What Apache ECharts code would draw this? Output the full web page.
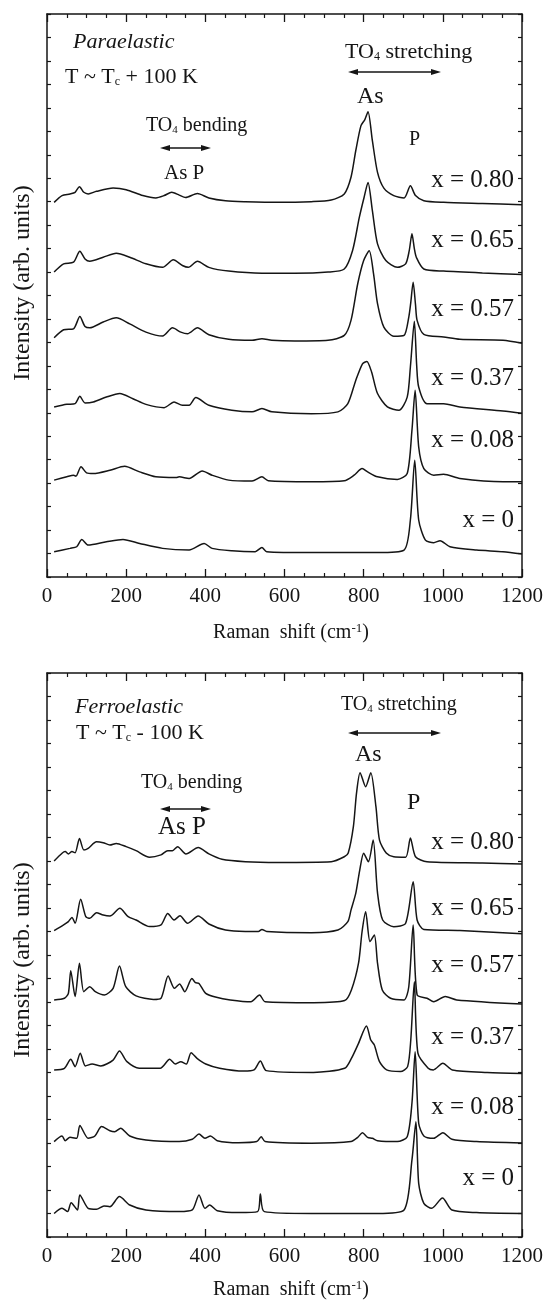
<!DOCTYPE html>
<html>
<head>
<meta charset="utf-8">
<script src="https://cdn.jsdelivr.net/npm/echarts@6/dist/echarts.min.js"></script>
<style>
html,body{margin:0;padding:0;background:#fff;}
#chart{width:548px;height:1301px;}
</style>
</head>
<body>
<div id="chart"></div>
<script>
// ---------- DATA (Raman shift in cm-1, intensity in arb. units above each trace's baseline) ----------
const compositions = ['x = 0.80', 'x = 0.65', 'x = 0.57', 'x = 0.37', 'x = 0.08', 'x = 0'];
const offsets = [16, 13, 10, 7, 4, 1];
const xTicks = [0, 200, 400, 600, 800, 1000, 1200];

// Paraelastic, T ~ Tc + 100 K
const para080 = [[18,-0.03],[38,0.26],[58,0.33],[71,0.4],[82,0.64],[93,0.4],[104,0.33],[125,0.44],[167,0.58],[200,0.51],[242,0.26],[275,0.16],[296,0.26],[315,0.4],[334,0.28],[350,0.18],[380,0.35],[409,0.16],[451,0.04],[501,0],[584,-0.03],[668,0],[718,0.07],[751,0.33],[768,1.04],[780,2.17],[793,3.23],[803,3.5],[811,3.83],[822,2.6],[835,1.25],[851,0.58],[876,0.26],[902,0.16],[918,0.68],[931,0.26],[952,0.04],[1002,-0.03],[1100,-0.08],[1200,-0.13]];
const para065 = [[18,0],[42,0.35],[67,0.42],[83,0.89],[96,0.56],[108,0.46],[142,0.63],[175,0.8],[209,0.63],[250,0.35],[292,0.2],[319,0.52],[342,0.28],[357,0.2],[380,0.46],[409,0.2],[459,0.04],[543,-0.05],[626,-0.05],[710,0],[751,0.13],[772,0.92],[789,2.33],[801,3.18],[811,3.82],[822,2.62],[835,1.2],[856,0.49],[885,0.2],[906,0.35],[915,0.9],[922,1.63],[928,1.0],[933,0.63],[952,0.13],[1002,0.04],[1100,-0.04],[1200,-0.1]];
const para057 = [[18,0.2],[42,0.54],[67,0.58],[83,1.1],[96,0.68],[108,0.62],[142,0.87],[175,1.05],[209,0.79],[250,0.44],[292,0.27],[317,0.62],[338,0.44],[355,0.37],[380,0.62],[409,0.33],[459,0.13],[518,0.09],[543,0.16],[568,0.09],[626,0.06],[710,0.09],[751,0.3],[768,0.94],[785,2.5],[800,3.49],[814,3.91],[825,2.92],[835,1.65],[851,0.65],[876,0.26],[902,0.3],[914,1.08],[919,1.7],[925,2.57],[931,1.6],[935,0.94],[952,0.34],[1002,0.23],[1043,0.13],[1152,0.09],[1200,-0.04]];
const para037 = [[18,0.25],[50,0.36],[71,0.39],[83,0.7],[96,0.42],[117,0.46],[150,0.67],[184,0.82],[217,0.6],[250,0.36],[296,0.22],[321,0.46],[342,0.32],[359,0.32],[376,0.65],[409,0.32],[467,0.11],[518,0.04],[543,0.18],[568,0.04],[668,-0.04],[735,0.04],[760,0.39],[780,1.38],[797,2.09],[808,2.19],[820,1.74],[835,0.82],[860,0.25],[889,0.11],[910,0.67],[918,1.95],[928,3.9],[934,2.0],[939,1.1],[960,0.39],[1002,0.39],[1043,0.25],[1152,0.08],[1200,-0.02]];
const para008 = [[18,0.13],[50,0.27],[67,0.34],[73,0.3],[86,0.7],[100,0.44],[117,0.41],[159,0.55],[196,0.72],[234,0.48],[275,0.27],[326,0.24],[334,0.27],[359,0.2],[392,0.52],[417,0.34],[459,0.13],[518,0.09],[543,0.27],[559,0.1],[668,0.06],[751,0.1],[776,0.34],[796,0.62],[810,0.48],[835,0.27],[885,0.16],[910,0.41],[922,2.26],[930,3.96],[939,1.55],[952,0.62],[977,0.34],[1002,0.38],[1043,0.2],[1152,0.06],[1200,0.06]];
const para000 = [[18,0.08],[58,0.22],[75,0.29],[88,0.6],[104,0.36],[150,0.5],[192,0.6],[234,0.43],[292,0.22],[359,0.15],[397,0.43],[417,0.22],[467,0.12],[526,0.08],[543,0.26],[555,0.08],[668,0.04],[835,0.04],[902,0.15],[918,1.43],[929,3.98],[939,1.43],[956,0.57],[977,0.46],[993,0.55],[1018,0.29],[1085,0.15],[1152,0.08],[1200,-0.02]];

// Ferroelastic, T ~ Tc - 100 K
const ferro080 = [[18,0],[38,0.33],[46,0.4],[54,0.3],[63,0.4],[71,0.35],[82,0.96],[93,0.47],[104,0.54],[125,0.82],[142,0.78],[159,0.68],[175,0.75],[200,0.61],[225,0.44],[259,0.16],[288,0.26],[305,0.44],[317,0.44],[330,0.61],[351,0.3],[382,0.57],[409,0.3],[442,0.07],[501,-0.03],[584,-0.06],[718,-0.03],[751,0.18],[761,0.34],[774,1.46],[782,2.9],[791,3.76],[805,3.16],[818,3.76],[831,2.31],[840,0.89],[857,0.34],[876,0.18],[906,0.16],[918,0.98],[931,0.18],[960,-0.03],[1100,-0.08],[1200,-0.13]];
const ferro065 = [[18,0.04],[42,0.28],[54,0.42],[63,0.6],[71,0.35],[85,1.37],[98,0.63],[108,0.56],[125,0.8],[142,0.7],[159,0.66],[184,0.99],[205,0.63],[225,0.49],[259,0.21],[288,0.28],[305,0.77],[321,0.49],[336,0.67],[355,0.35],[382,0.66],[409,0.32],[451,0.06],[501,0],[534,0],[543,0.09],[555,0],[668,-0.05],[735,0.06],[760,0.42],[768,0.91],[780,1.62],[790,2.6],[800,3.33],[812,2.97],[824,3.89],[835,1.64],[848,0.49],[876,0.2],[906,0.35],[925,2.12],[935,0.49],[952,0.09],[1043,0.04],[1200,-0.1]];
const ferro057 = [[18,0.09],[44,0.16],[54,0.37],[60,1.33],[71,0.23],[82,1.65],[93,0.44],[108,0.65],[122,0.44],[145,0.3],[167,0.58],[183,1.53],[199,0.65],[225,0.26],[269,0.11],[288,0.16],[306,1.11],[322,0.58],[335,0.77],[348,0.44],[366,1.0],[375,0.82],[384,0.79],[401,0.37],[428,0.2],[463,0.09],[515,0.01],[537,0.3],[551,0.01],[674,-0.03],[752,0.06],[769,0.51],[787,1.65],[796,3.0],[805,3.84],[816,2.57],[827,2.85],[835,1.65],[847,0.51],[868,0.16],[902,0.09],[914,0.65],[925,3.28],[935,0.3],[960,0.16],[977,0.01],[1006,0.23],[1035,0.09],[1200,-0.09]];
const ferro037 = [[18,0.11],[44,0.18],[60,0.56],[71,0.25],[84,0.82],[97,0.28],[114,0.36],[136,0.28],[167,0.53],[183,0.91],[202,0.46],[233,0.18],[286,0.18],[310,0.56],[324,0.36],[338,0.46],[352,0.36],[364,0.84],[379,0.6],[401,0.36],[436,0.18],[497,0.06],[523,0.11],[539,0.49],[554,0.08],[673,0],[752,0.18],[769,0.6],[787,1.24],[807,1.98],[818,1.38],[827,1.17],[840,0.46],[858,0.11],[893,0.04],[911,0.25],[919,1.38],[928,3.86],[937,0.82],[963,0.18],[976,0.11],[1000,0.39],[1024,0.11],[1112,0],[1200,-0.04]];
const ferro008 = [[18,0.06],[38,0.3],[46,0.1],[58,0.24],[75,0.2],[83,0.74],[104,0.2],[121,0.3],[138,0.7],[159,0.52],[171,0.48],[186,0.63],[209,0.3],[250,0.13],[334,0.06],[367,0.16],[384,0.38],[399,0.2],[413,0.3],[430,0.1],[484,0.01],[530,0.06],[541,0.27],[551,0.06],[668,-0.01],[768,0.06],[785,0.24],[797,0.44],[810,0.24],[822,0.2],[835,0.1],[885,0.06],[910,0.27],[922,1.7],[930,3.88],[939,0.84],[952,0.3],[977,0.2],[1000,0.44],[1023,0.16],[1085,0.06],[1200,0]];
const ferro000 = [[18,0],[38,0.22],[52,0.08],[61,0.46],[77,0.15],[83,0.79],[104,0.22],[125,0.18],[144,0.32],[159,0.29],[183,0.72],[209,0.36],[250,0.15],[334,0.08],[367,0.15],[384,0.79],[399,0.22],[411,0.36],[430,0.12],[484,0.04],[532,0.08],[539,0.83],[549,0.08],[668,0],[835,0],[902,0.15],[922,2.28],[932,3.9],[939,1.28],[952,0.43],[972,0.22],[999,0.66],[1023,0.15],[1085,0.04],[1200,0]];

const paraSpectra = [para080, para065, para057, para037, para008, para000];
const ferroSpectra = [ferro080, ferro065, ferro057, ferro037, ferro008, ferro000];

// ---------- CHART ----------
const chart = echarts.init(document.getElementById('chart'), null, {renderer: 'canvas'});
const FONT = '"Liberation Serif", "Times New Roman", serif';
const INK = '#151515';

const grids = [
  {left: 47, right: 26, top: 14, height: 563},
  {left: 47, right: 26, top: 673, height: 564}
];

function xAxes(gi) {
  const base = {
    type: 'value', gridIndex: gi, min: xTicks[0], max: xTicks[xTicks.length - 1], interval: xTicks[1] - xTicks[0],
    axisLine: {show: true, onZero: false, lineStyle: {color: INK, width: 1.5}},
    axisTick: {show: true, inside: true, length: 8, lineStyle: {color: INK, width: 1.3}},
    minorTick: {show: true, splitNumber: 4, length: 4, lineStyle: {color: INK, width: 1.2}},
    splitLine: {show: false}
  };
  return [
    Object.assign({}, base, {position: 'bottom',
      axisLabel: {show: true, fontFamily: FONT, fontSize: 21, color: INK, margin: 9,
        formatter: v => String(v)}}),
    Object.assign({}, base, {position: 'top', axisLabel: {show: false}})
  ];
}
function yAxes(gi) {
  const base = {
    type: 'value', gridIndex: gi, min: 0, max: 24, interval: 1,
    axisLine: {show: true, onZero: false, lineStyle: {color: INK, width: 1.5}},
    axisTick: {show: true, inside: true, length: 4, lineStyle: {color: INK, width: 1.2}},
    axisLabel: {show: false}, splitLine: {show: false}
  };
  return [Object.assign({}, base, {position: 'left'}), Object.assign({}, base, {position: 'right'})];
}

const series = [];
[paraSpectra, ferroSpectra].forEach((set, gi) => {
  set.forEach((spec, i) => {
    series.push({
      type: 'line', name: compositions[i] + (gi ? ' ferro' : ' para'),
      xAxisIndex: gi * 2, yAxisIndex: gi * 2,
      data: spec.map(p => [p[0], p[1] + offsets[i]]),
      showSymbol: false, smooth: 0.25, silent: true,
      lineStyle: {color: INK, width: 1.5}
    });
  });
});

// ---------- annotations ----------
const g = [];
function txt(x, y, rich, parts, opts) {
  const o = opts || {};
  g.push({type: 'text', x: x, y: y, silent: true, style: {
    text: parts, rich: rich, align: o.align || 'left', verticalAlign: 'middle',
    fill: INK, font: (o.italic ? 'italic ' : '') + (o.size || 20) + 'px ' + FONT
  }});
}
function richSet(size) {
  return {
    n: {fontFamily: FONT, fontSize: size, color: INK},
    i: {fontFamily: FONT, fontSize: size, color: INK, fontStyle: 'italic'},
    s: {fontFamily: FONT, fontSize: Math.round(size * 0.55), color: INK, verticalAlign: 'bottom', padding: [size * 0.45, 0, 0, 0]}
  };
}
function arrow(x1, x2, y) {
  g.push({type: 'line', silent: true, shape: {x1: x1 + 4, y1: y, x2: x2 - 4, y2: y}, style: {stroke: INK, lineWidth: 1.3}});
  g.push({type: 'polygon', silent: true, shape: {points: [[x1, y], [x1 + 10, y - 3], [x1 + 10, y + 3]]}, style: {fill: INK}});
  g.push({type: 'polygon', silent: true, shape: {points: [[x2, y], [x2 - 10, y - 3], [x2 - 10, y + 3]]}, style: {fill: INK}});
}

// Top panel
txt(73, 42, richSet(22), '{i|Paraelastic}', {italic: true, size: 22});
txt(65, 77, richSet(22), '{n|T ~ T}{s|c}{n| + 100 K}', {size: 22});
txt(345, 52, richSet(22), '{n|TO}{s|4}{n| stretching}', {size: 22});
arrow(348, 441, 72);
txt(357, 97, richSet(24), '{n|As}', {size: 24});
txt(146, 126, richSet(20), '{n|TO}{s|4}{n| bending}', {size: 20});
arrow(160, 211, 148);
txt(164, 173, richSet(21), '{n|As P}', {size: 21});
txt(409, 140, richSet(20), '{n|P}', {size: 20});
const topLabelY = [180, 240, 309, 378, 440, 520];
compositions.forEach((c, i) => txt(514, topLabelY[i], richSet(25), '{n|' + c + '}', {size: 25, align: 'right'}));

// Bottom panel
txt(75, 707, richSet(22), '{i|Ferroelastic}', {italic: true, size: 22});
txt(76, 733, richSet(22), '{n|T ~ T}{s|c}{n| - 100 K}', {size: 22});
txt(341, 705, richSet(20), '{n|TO}{s|4}{n| stretching}', {size: 20});
arrow(348, 441, 733);
txt(355, 755, richSet(24), '{n|As}', {size: 24});
txt(141, 783, richSet(20), '{n|TO}{s|4}{n| bending}', {size: 20});
arrow(160, 211, 809);
txt(158, 827, richSet(25), '{n|As P}', {size: 25});
txt(407, 803, richSet(24), '{n|P}', {size: 24});
const botLabelY = [842, 908, 965, 1037, 1107, 1178];
compositions.forEach((c, i) => txt(514, botLabelY[i], richSet(25), '{n|' + c + '}', {size: 25, align: 'right'}));

// Axis titles
const titleRich = {
  n: {fontFamily: FONT, fontSize: 20, color: INK},
  sup: {fontFamily: FONT, fontSize: 13, color: INK, verticalAlign: 'top', padding: [0, 0, 8, 0]}
};
[633, 1290].forEach(y => {
  g.push({type: 'text', x: 291, y: y, silent: true, style: {
    text: '{n|Raman  shift (cm}{sup|-1}{n|)}', rich: titleRich, align: 'center', verticalAlign: 'middle', fill: INK}});
});
[283, 960].forEach(y => {
  g.push({type: 'text', x: 23, y: y, rotation: Math.PI / 2, silent: true, style: {
    text: 'Intensity (arb. units)', align: 'center', verticalAlign: 'middle', fill: INK,
    font: '24px ' + FONT}});
});

chart.setOption({
  animation: false,
  backgroundColor: '#ffffff',
  grid: grids,
  xAxis: xAxes(0).concat(xAxes(1)),
  yAxis: yAxes(0).concat(yAxes(1)),
  series: series,
  graphic: g
});
</script>
</body>
</html>
